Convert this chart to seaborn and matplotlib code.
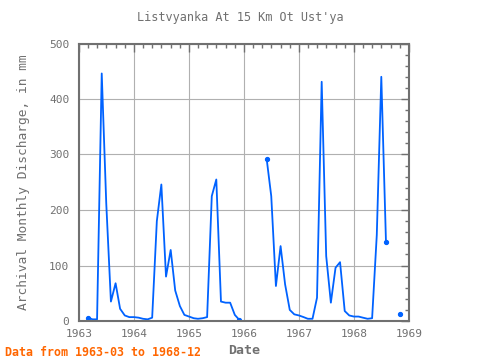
import numpy as np
import pandas as pd
import matplotlib
matplotlib.use("Agg")
import matplotlib.pyplot as plt
import matplotlib.dates as mdates
import seaborn as sns

# Monthly discharge, Jan 1963 .. Dec 1968 (nan = no record)
nan = np.nan
q_1963 = [nan, nan, 6, 3, 3, 446, 212, 35, 68, 22, 10, 7]
q_1964 = [7, 6, 4, 3, 6, 180, 246, 80, 128, 55, 27, 11]
q_1965 = [8, 5, 4, 5, 7, 225, 255, 35, 33, 33, 11, 2]
q_1966 = [nan, nan, nan, nan, nan, 291, 225, 63, 135, 66, 20, 12]
q_1967 = [10, 7, 4, 4, 42, 431, 117, 33, 96, 106, 18, 10]
q_1968 = [8, 8, 6, 4, 5, 155, 440, 143, nan, nan, 13, nan]

title = "Listvyanka At 15 Km Ot Ust'ya"
ylabel = "Archival Monthly Discharge, in mm"
xlabel = "Date"
note = "Data from 1963-03 to 1968-12"

values = q_1963 + q_1964 + q_1965 + q_1966 + q_1967 + q_1968
df = pd.DataFrame({
    "date": pd.date_range("1963-01-01", periods=len(values), freq="MS"),
    "q": values,
})

# split into runs without gaps so the line breaks where data is missing
ok = df["q"].notna()
df["seg"] = (ok != ok.shift(fill_value=False)).cumsum()
edge = ok & (~ok.shift(1, fill_value=False) | ~ok.shift(-1, fill_value=False))
runs = df[ok]

sns.set_style("white")
plt.rcParams["font.family"] = ["DejaVu Sans Mono"]

grey = "#707070"
blue = "#0062ff"

fig = plt.figure(figsize=(4.8, 3.6), dpi=100)
ax = fig.add_axes([79 / 480, 1 - 321 / 360, 330 / 480, 277.5 / 360])

sns.lineplot(data=runs, x="date", y="q", units="seg", estimator=None, ax=ax,
             color=blue, linewidth=1.3)
ax.plot(df.loc[edge, "date"], df.loc[edge, "q"], "o", color=blue, markersize=2.8)

ax.set_xlim(pd.Timestamp("1963-01-01"), pd.Timestamp("1969-01-01"))
ax.set_ylim(0, 500)
ax.xaxis.set_major_locator(mdates.YearLocator())
ax.xaxis.set_major_formatter(mdates.DateFormatter("%Y"))
ax.xaxis.set_minor_locator(mdates.MonthLocator(bymonth=[3, 5, 7, 9, 11]))
ax.set_yticks(range(0, 501, 100))
ax.set_yticks(range(0, 501, 20), minor=True)

ax.grid(True, which="major", color="#b0b0b0", linewidth=0.8)
for s in ax.spines.values():
    s.set_color(grey)
    s.set_linewidth(1.5)
ax.tick_params(which="both", direction="in", top=True, right=True, color=grey,
               labelcolor=grey, labelsize=8)
ax.tick_params(which="major", length=6, width=1)
ax.tick_params(which="minor", length=3, width=1)
ax.tick_params(axis="x", pad=6)
ax.tick_params(axis="y", pad=7)

ax.set_xlabel(xlabel, color=grey, fontsize=9.5, fontweight="bold", labelpad=3)
ax.set_ylabel(ylabel, color=grey, fontsize=9.3, labelpad=14)
fig.text(0.5, 1 - 18 / 360, title, color=grey, fontsize=8.6, ha="center", va="center")
fig.text(5 / 480, 1 - 352 / 360, note, color="#ff6600", fontsize=8.4,
         fontweight="bold", ha="left", va="center")

fig.savefig("out.png", dpi=100)
